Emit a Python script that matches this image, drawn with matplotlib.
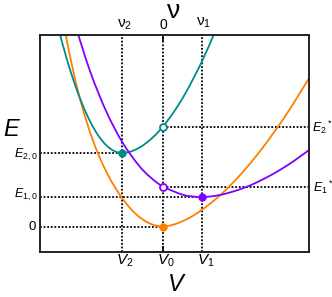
import numpy as np
import matplotlib
matplotlib.use('Agg')
import matplotlib.pyplot as plt
from matplotlib.path import Path
from matplotlib.patches import PathPatch

plt.rcParams['font.family'] = 'Liberation Sans'
plt.rcParams['mathtext.fontset'] = 'custom'
plt.rcParams['mathtext.rm'] = 'Liberation Sans'
plt.rcParams['mathtext.it'] = 'Liberation Sans:italic'

# 특성 위치 (V, E)
V2, V0, V1 = -1.02, 0.0, 0.98
E20, E10, E00 = 7.35, 2.95, 0.0
E2s, E1s = 10.0, 4.0

# 그림에서 읽은 곡선 점들
orange_x = [-2.5, -2.4, -2.2, -2.0, -1.8, -1.6, -1.4, -1.2, -1.0, -0.8, -0.6,
            -0.4, -0.2, 0.0, 0.2, 0.4, 0.6, 0.8, 1.0, 1.3, 1.6, 2.0, 2.4, 2.8,
            3.2, 3.7]
orange_y = [20.69, 18.52, 14.77, 11.68, 9.15, 7.06, 5.34, 3.92, 2.72, 1.74,
            0.98, 0.44, 0.11, 0.0, 0.12, 0.38, 0.74, 1.2, 1.74, 2.68, 3.78,
            5.47, 7.4, 9.56, 11.92, 15.16]

teal_x = [-2.60, -2.42, -2.22, -2.02, -1.82, -1.62, -1.42, -1.22, -1.02, -0.82,
          -0.62, -0.42, -0.22, 0.0, 0.28, 0.58, 0.97, 1.28, 1.38]
teal_y = [19.58, 16.95, 14.41, 12.25, 10.49, 9.11, 8.13, 7.55, 7.35, 7.48,
          7.82, 8.35, 9.04, 10.0, 11.51, 13.46, 16.48, 19.3, 20.28]

purple_x = [-2.22, -1.82, -1.42, -1.02, -0.62, -0.32, 0.0, 0.48, 0.78, 0.98,
            1.18, 1.48, 1.88, 2.28, 2.78, 3.28, 3.78]
purple_y = [20.47, 15.49, 11.52, 8.45, 6.18, 4.94, 4.0, 3.19, 2.985, 2.95,
            3.0, 3.2, 3.66, 4.29, 5.32, 6.57, 8.05]

c_orange = '#ff8000'
c_teal = '#008b8b'
c_purple = '#8000ff'


def smooth_path(xs, ys):
    # 점들을 지나는 부드러운 곡선 (Catmull-Rom -> bezier)
    p = np.column_stack([xs, ys])
    n = len(p)
    verts = [p[0]]
    codes = [Path.MOVETO]
    for i in range(n - 1):
        p0 = p[max(i - 1, 0)]
        p1 = p[i]
        p2 = p[i + 1]
        p3 = p[min(i + 2, n - 1)]
        verts += [p1 + (p2 - p0) / 6, p2 - (p3 - p1) / 6, p2]
        codes += [Path.CURVE4] * 3
    return Path(verts, codes)


fig = plt.figure(figsize=(3.32, 2.97), dpi=100)
ax = fig.add_axes([40 / 332, 45 / 297, 269 / 332, 217 / 297])
xmin, xmax = -3.075, 3.65
ymin, ymax = -2.55, 19.15
ax.set_xlim(xmin, xmax)
ax.set_ylim(ymin, ymax)

dot = dict(color='black', lw=1.3, linestyle=(0, (1, 1)), zorder=1)
for v in [V2, V0, V1]:
    ax.plot([v, v], [ymin, ymax], **dot)
ax.plot([xmin, V2], [E20, E20], **dot)
ax.plot([xmin, V1], [E10, E10], **dot)
ax.plot([xmin, V0], [E00, E00], **dot)
ax.plot([V0, xmax], [E2s, E2s], **dot)
ax.plot([V0, xmax], [E1s, E1s], **dot)

for xs, ys, c in [(orange_x, orange_y, c_orange), (teal_x, teal_y, c_teal),
                  (purple_x, purple_y, c_purple)]:
    ax.add_patch(PathPatch(smooth_path(xs, ys), fill=False, edgecolor=c,
                           lw=1.3, zorder=2))

ax.plot([V0], [E00], 'o', color=c_orange, ms=5, zorder=3)
ax.plot([V2], [E20], 'o', color=c_teal, ms=5, zorder=3)
ax.plot([V1], [E10], 'o', color=c_purple, ms=5, zorder=3)
ax.plot([V0], [E2s], 'o', mfc='white', mec=c_teal, mew=1.3, ms=5, zorder=3)
ax.plot([V0], [E1s], 'o', mfc='white', mec=c_purple, mew=1.3, ms=5, zorder=3)

for s in ax.spines.values():
    s.set_linewidth(1.4)
    s.set_color('#222222')
ax.set_xticks([V0])
ax.set_yticks([])
ax.tick_params(axis='x', direction='in', length=4, width=1.2, top=True,
               labelbottom=False, labeltop=False)


def px(x, y, s, **kw):
    fig.text(x / 332, 1 - y / 297, s, **kw)


px(173, 11, r'$\mathrm{\nu}$', fontsize=19, ha='center', va='center')
px(177, 285, r'$V$', fontsize=17, ha='center', va='center')
px(12, 130, r'$E$', fontsize=17, ha='center', va='center')

px(125, 25, r'$\mathrm{\nu}_2$', fontsize=11, ha='center', va='center')
px(163, 25, '0', fontsize=10, ha='center', va='center')
px(204, 23, r'$\mathrm{\nu}_1$', fontsize=11, ha='center', va='center')

px(125, 261, r'$V_2$', fontsize=11, ha='center', va='center')
px(166, 261, r'$V_0$', fontsize=11, ha='center', va='center')
px(206, 261, r'$V_1$', fontsize=11, ha='center', va='center')

px(38, 155, r'$E_{2,0}$', fontsize=9, ha='right', va='center')
px(38, 195, r'$E_{1,0}$', fontsize=9, ha='right', va='center')
px(36, 226.5, '0', fontsize=9.5, ha='right', va='center')
px(312, 127, r'$E_2{}^*$', fontsize=9, ha='left', va='center')
px(313, 187, r'$E_1{}^*$', fontsize=9, ha='left', va='center')

fig.savefig('out.png', dpi=100)
